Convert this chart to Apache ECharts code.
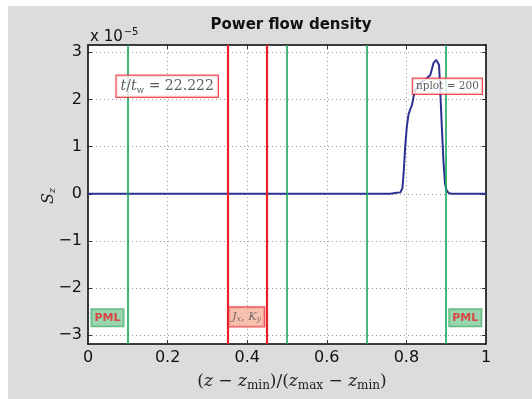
<!DOCTYPE html>
<html>
<head>
<meta charset="utf-8">
<script src="https://cdn.jsdelivr.net/npm/echarts@6/dist/echarts.min.js"></script>
<style>
  html, body { margin: 0; padding: 0; background: #ffffff; }
  #chart { width: 532px; height: 399px; }
</style>
</head>
<body>
<div id="chart"></div>
<script>
// Normalised position along z and the power flow density S_z (units of 1e-5)
const zPos = [0, 0.70, 0.760, 0.775, 0.785, 0.790, 0.793, 0.797, 0.801, 0.805, 0.810, 0.814, 0.818, 0.822, 0.830, 0.840, 0.850, 0.860, 0.868, 0.875, 0.879, 0.882, 0.885, 0.889, 0.893, 0.897, 0.901, 0.906, 0.912, 0.93, 1];
const szVals = [0, 0, 0, 0.02, 0.03, 0.12, 0.43, 1.00, 1.42, 1.67, 1.80, 1.88, 2.06, 2.20, 2.30, 2.38, 2.44, 2.52, 2.77, 2.84, 2.82, 2.73, 2.20, 1.42, 0.71, 0.22, 0.07, 0.02, 0, 0, 0];

// Layout markers
const pmlLines = [0.1, 0.9];
const regionLines = [0.5, 0.7];
const sourceLines = [0.35, 0.45];

// Axis ticks
const xTicks = [0, 0.2, 0.4, 0.6, 0.8, 1];
const yTicks = [-3, -2, -1, 0, 1, 2, 3];

// Annotation boxes: [x, y, kind]
const notes = [
  [0.199, 2.28, 'time'],
  [0.903, 2.28, 'nplot'],
  [0.049, -2.63, 'pml'],
  [0.948, -2.63, 'pml'],
  [0.3985, -2.61, 'src']
];

const GREEN = '#16a85a';
const RED = '#e8202a';
const serif = 'DejaVu Serif';
const sans = 'DejaVu Sans';

const chart = echarts.init(document.getElementById('chart'), null, { renderer: 'canvas' });

const fmtMinus = v => (v < 0 ? '\u2212' + Math.abs(v) : String(v));

const vline = (xs, color, width) => ({
  silent: true,
  symbol: 'none',
  label: { show: false },
  lineStyle: { color: color, width: width, type: 'solid' },
  data: xs.map(x => ({ xAxis: x }))
});

const noteLabel = {
  time: {
    formatter: '{i|t}{r|/}{i|t}{s|w}{r| = 22.222}',
    backgroundColor: '#ffffff', borderColor: RED, borderWidth: 1.2,
    padding: [3, 4, 2, 4],
    rich: {
      i: { fontFamily: serif, fontStyle: 'italic', fontSize: 14, color: '#333' },
      r: { fontFamily: serif, fontSize: 14, color: '#333' },
      s: { fontFamily: serif, fontSize: 9, color: '#333', padding: [7, 0, 0, 0] }
    }
  },
  nplot: {
    formatter: 'nplot = 200',
    backgroundColor: '#ffffff', borderColor: RED, borderWidth: 1.2,
    padding: [2, 3, 2, 3],
    fontFamily: serif, fontSize: 10.5, color: '#333'
  },
  pml: {
    formatter: 'PML',
    backgroundColor: '#7fcb9a', borderColor: '#3aa560', borderWidth: 1,
    padding: [3, 3, 3, 3],
    fontFamily: sans, fontWeight: 'bold', fontSize: 11, color: RED
  },
  src: {
    formatter: '{i|J}{s|x}{r|, }{i|K}{s|y}',
    backgroundColor: '#f6b19a', borderColor: RED, borderWidth: 1.2,
    padding: [3, 3, 3, 3],
    rich: {
      i: { fontFamily: serif, fontStyle: 'italic', fontSize: 11.5, color: '#555' },
      r: { fontFamily: serif, fontSize: 11.5, color: '#555' },
      s: { fontFamily: serif, fontStyle: 'italic', fontSize: 7.5, color: '#555', padding: [5, 0, 0, 0] }
    }
  }
};

const option = {
  backgroundColor: 'transparent',
  animation: false,
  graphic: [
    { type: 'rect', z: -10, shape: { x: 8, y: 6, width: 524, height: 393 }, style: { fill: '#dcdcdc' } },
    { type: 'rect', z: -9, shape: { x: 88, y: 45, width: 398, height: 299 }, style: { fill: '#ffffff' } },
    {
      type: 'text', x: 49, y: 196, rotation: Math.PI / 2, z: 10,
      style: {
        text: '{i|S}{s|z}', align: 'center', verticalAlign: 'middle',
        rich: {
          i: { fontFamily: serif, fontStyle: 'italic', fontSize: 16, fill: '#222' },
          s: { fontFamily: serif, fontStyle: 'italic', fontSize: 10, fill: '#222', padding: [7, 0, 0, 0] }
        }
      }
    }
  ],
  title: [
    {
      text: 'Power flow density', left: 286, top: 13, textAlign: 'center',
      textStyle: { fontFamily: sans, fontWeight: 'bold', fontSize: 15, color: '#111' }
    },
    {
      text: '{a|x 10}{b|\u22125}', left: 85, top: 22,
      textStyle: { rich: {
        a: { fontFamily: sans, fontWeight: 'normal', fontSize: 15, color: '#111' },
        b: { fontFamily: sans, fontWeight: 'normal', fontSize: 10, color: '#111', padding: [0, 0, 10, 1] }
      } }
    },
    {
      text: '{t|(}{i|z}{t| \u2212 }{i|z}{s|min}{t|)/(}{i|z}{s|max}{t| \u2212 }{i|z}{s|min}{t|)}',
      left: 287, top: 367, textAlign: 'center',
      textStyle: { rich: {
        t: { fontFamily: serif, fontWeight: 'normal', fontSize: 17, color: '#222' },
        i: { fontFamily: serif, fontWeight: 'normal', fontStyle: 'italic', fontSize: 17, color: '#222' },
        s: { fontFamily: serif, fontWeight: 'normal', fontSize: 12, color: '#222', padding: [8, 0, 0, 0] }
      } }
    }
  ],
  grid: { show: false, left: 88, right: 46, top: 45, bottom: 55 },
  xAxis: [
    {
      type: 'value', min: 0, max: 1, interval: 0.2, position: 'bottom',
      axisLine: { show: true, onZero: false, lineStyle: { color: '#000', width: 1.5 } },
      axisTick: { show: true, inside: true, length: 4, lineStyle: { color: '#333' } },
      axisLabel: { fontFamily: sans, fontSize: 16, color: '#111', margin: 6,
        formatter: v => (xTicks.includes(+v.toFixed(1)) ? String(+v.toFixed(1)) : '') },
      splitLine: { show: true, lineStyle: { color: '#999', type: [1, 3], width: 1 } }
    },
    {
      type: 'value', min: 0, max: 1, interval: 0.2, position: 'top',
      axisLine: { show: true, onZero: false, lineStyle: { color: '#000', width: 1.5 } },
      axisTick: { show: true, inside: true, length: 4, lineStyle: { color: '#333' } },
      axisLabel: { show: false }, splitLine: { show: false }
    }
  ],
  yAxis: [
    {
      type: 'value', min: -3.185, max: 3.155, position: 'left',
      axisLine: { show: true, onZero: false, lineStyle: { color: '#000', width: 1.5 } },
      axisTick: { show: true, inside: true, length: 4, lineStyle: { color: '#333' },
        customValues: yTicks },
      axisLabel: { fontFamily: sans, fontSize: 16, color: '#111', margin: 6,
        customValues: yTicks, formatter: v => fmtMinus(v) },
      splitLine: { show: true, lineStyle: { color: '#999', type: [1, 3], width: 1 } }
    },
    {
      type: 'value', min: -3.185, max: 3.155, position: 'right',
      axisLine: { show: true, onZero: false, lineStyle: { color: '#000', width: 1.5 } },
      axisTick: { show: true, inside: true, length: 4, lineStyle: { color: '#333' },
        customValues: yTicks },
      axisLabel: { show: false }, splitLine: { show: false }
    }
  ],
  series: [
    {
      type: 'line', name: 'markers', data: [], z: 3,
      markLine: vline(pmlLines.concat(regionLines), GREEN, 1.6)
    },
    {
      type: 'line', name: 'source', data: [], z: 3,
      markLine: vline(sourceLines, RED, 2.2)
    },
    {
      type: 'line', name: 'Sz', z: 4,
      data: zPos.map((z, i) => [z, szVals[i]]),
      showSymbol: false, symbol: 'none',
      lineStyle: { color: '#2e3192', width: 2 }
    },
    {
      type: 'scatter', name: 'notes', z: 6, symbolSize: 0, silent: true,
      data: notes.map(n => ({
        value: [n[0], n[1]],
        label: Object.assign({ show: true, position: 'inside' }, noteLabel[n[2]])
      }))
    }
  ]
};

chart.setOption(option);
</script>
</body>
</html>
